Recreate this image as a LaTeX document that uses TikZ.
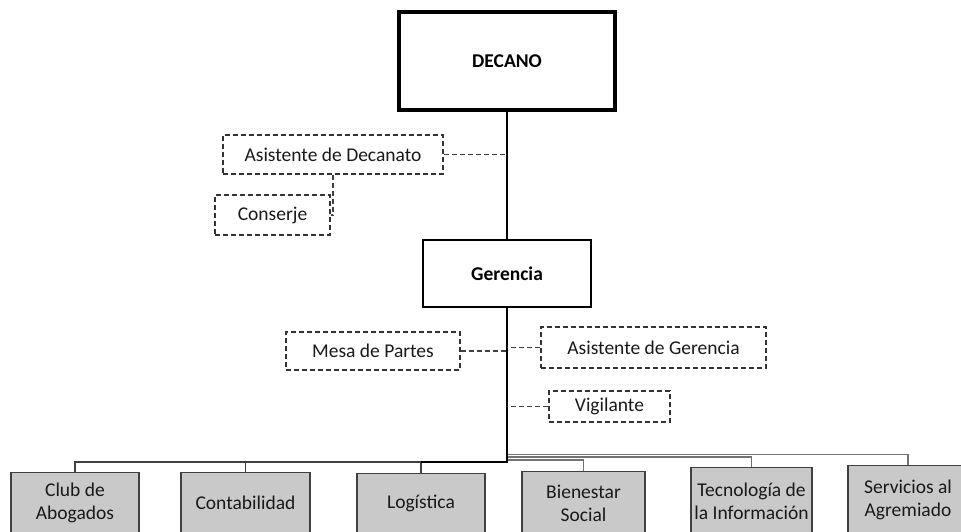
\documentclass[tikz,border=0pt]{standalone}
\usepackage{fontspec}
\setmainfont{Carlito}
\begin{document}
\begin{tikzpicture}[x=1pt,y=-1pt,
  head/.style={draw=black, fill=white, inner sep=0pt, text=black, font=\bfseries\fontsize{19.5}{23}\selectfont},
  dbox/.style={draw=black!80, dash pattern=on 5pt off 3pt, line width=1.3pt, inner sep=0pt, text=black!90, font=\fontsize{19.5}{23}\selectfont},
  ubox/.style={draw=black!75, fill=black!21, line width=1.3pt, inner sep=0pt},
  utext/.style={inner sep=0pt, align=center, text=black!90, font=\fontsize{19.5}{23}\selectfont},
  trunk/.style={line width=2pt, draw=black},
  dline/.style={dash pattern=on 5pt off 3pt, line width=1.3pt, draw=black!75},
  gline/.style={line width=1.3pt, draw=black!55},
  kline/.style={line width=1.6pt, draw=black!75}]
\useasboundingbox (0,0) rectangle (961,531);
\clip (0,0) rectangle (961,531);

% main boxes
\node[head, line width=4pt, minimum width=216, minimum height=98] (dec) at (507,61) {DECANO};
\node[head, line width=2.5pt, minimum width=168, minimum height=67] (ger) at (507,273.5) {Gerencia};

% dashed staff boxes
\node[dbox, minimum width=220, minimum height=39] (asd) at (333,154.5) {Asistente de Decanato};
\node[dbox, minimum width=115, minimum height=40] (con) at (272.5,215) {Conserje};
\node[dbox, minimum width=174, minimum height=38] (mesa) at (373,351) {Mesa de Partes};
\node[dbox, minimum width=225, minimum height=41] (asg) at (653.5,347.5) {Asistente de Gerencia};
\node[dbox, minimum width=121, minimum height=31] (vig) at (609.5,406.5) {Vigilante};

% bottom units (boxes run past the lower edge)
\node[ubox, anchor=north, minimum width=128, minimum height=70] (club) at (75,472) {};
\node[ubox, anchor=north, minimum width=129, minimum height=70] (cont) at (245.5,472) {};
\node[ubox, anchor=north, minimum width=128, minimum height=70] (logi) at (421,473) {};
\node[ubox, anchor=north, minimum width=123, minimum height=70] (bien) at (583.5,471) {};
\node[ubox, anchor=north, minimum width=121, minimum height=75] (tecn) at (751.5,467) {};
\node[ubox, anchor=north, minimum width=120, minimum height=75] (serv) at (908,465) {};

\node[utext] (clubT) at (75,503) {Club de\\Abogados};
\node[utext] (contT) at (245.5,503) {Contabilidad};
\node[utext] (logiT) at (421,503) {Logística};
\node[utext] (bienT) at (583.5,503) {Bienestar\\Social};
\node[utext] (tecnT) at (751.5,501) {Tecnología de\\la Información};
\node[utext] (servT) at (908,500) {Servicios al\\Agremiado};

% coordinates on the trunk
\coordinate (j) at (507,462);
\coordinate (jb) at (507,460);
\coordinate (jt) at (507,457);
\coordinate (js) at (507,454.5);

% trunk
\draw[trunk] (dec.south) -- (ger.north);

% lower branches
\draw[kline] (j) -- (club.north |- j) -- (club.north);
\draw[kline] (cont.north |- j) -- (cont.north);
\draw[kline] (logi.north |- j) -- (logi.north);
\draw[gline] (jb) -| (bien.north);
\draw[gline] (jt) -| (tecn.north);
\draw[gline] (js) -| (serv.north);
\draw[trunk] (ger.south) -- (j) -- (logi.north |- j);

% dashed staff connectors
\draw[dline] (asd.east) -- (asd.east -| dec.south);
\draw[dline] (asd.south) |- (con.east);
\draw[dline] (mesa.east) -- (mesa.east -| ger.south);
\draw[dline] (asg.west) -- (asg.west -| ger.south);
\draw[dline] (vig.west) -- (vig.west -| ger.south);
\end{tikzpicture}
\end{document}
